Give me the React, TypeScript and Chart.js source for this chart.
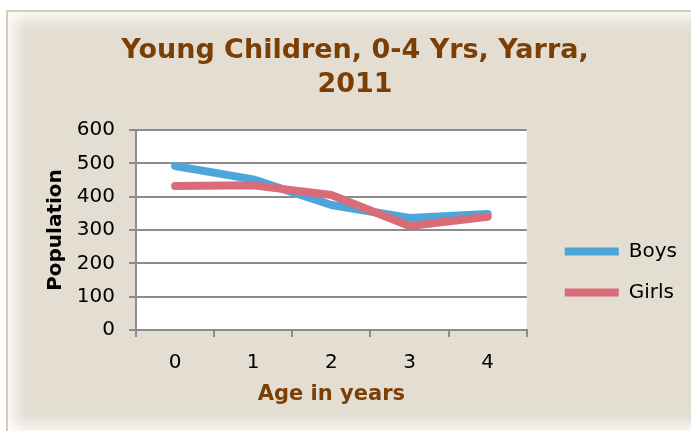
import React, { useEffect, useRef } from "react";
import { Chart, registerables } from "chart.js";

Chart.register(...registerables);

const categories = ["0", "1", "2", "3", "4"];
const boys = [492, 452, 375, 336, 348];
const girls = [432, 434, 405, 312, 340];
const yTicks = [0, 100, 200, 300, 400, 500, 600];

const plotBg = {
  id: "plotBg",
  beforeDraw(chart: any) {
    const { ctx, chartArea } = chart;
    ctx.save();
    ctx.fillStyle = "#ffffff";
    ctx.fillRect(chartArea.left, chartArea.top, chartArea.right - chartArea.left, chartArea.bottom - chartArea.top);
    ctx.restore();
  },
};

export default function App() {
  const ref = useRef<HTMLCanvasElement>(null);
  useEffect(() => {
    document.body.style.margin = "0";
    const chart = new Chart(ref.current!, {
      type: "line",
      data: {
        labels: categories,
        datasets: [
          {
            label: "Boys",
            data: boys,
            borderColor: "#4ea5da",
            backgroundColor: "#4ea5da",
            borderWidth: 8,
            borderCapStyle: "round",
            borderJoinStyle: "round",
            pointRadius: 0,
            tension: 0,
            order: 1,
          },
          {
            label: "Girls",
            data: girls,
            borderColor: "#d96c78",
            backgroundColor: "#d96c78",
            borderWidth: 8,
            borderCapStyle: "round",
            borderJoinStyle: "round",
            pointRadius: 0,
            tension: 0,
            order: 0,
          },
        ],
      },
      options: {
        animation: false,
        responsive: false,
        layout: { padding: { left: 23, right: 4, top: 0, bottom: 18 } },
        plugins: {
          title: {
            display: true,
            text: ["Young Children, 0-4 Yrs, Yarra,", "2011"],
            color: "#7b3f06",
            font: { family: "DejaVu Sans", size: 27, weight: "bold", lineHeight: 1.26 },
            padding: { top: 34, bottom: 28 },
          },
          legend: {
            position: "right",
            align: "start",
            maxWidth: 200,
            title: {
              display: true,
              text: " ",
              font: { size: 12 },
              padding: { top: 206, bottom: 0 },
            },
            labels: {
              usePointStyle: true,
              pointStyle: "line",
              pointStyleWidth: 54,
              padding: 21,
              color: "#000000",
              font: { family: "DejaVu Sans", size: 20 },
              sort: (a: any, b: any) => a.datasetIndex - b.datasetIndex,
            },
          },
          tooltip: { enabled: false },
        },
        scales: {
          x: {
            offset: true,
            grid: { display: true, drawOnChartArea: false, drawTicks: true, tickLength: 7, offset: true, color: "#8c8c8c", lineWidth: 2 },
            border: { display: true, color: "#8c8c8c", width: 2 },
            ticks: { color: "#000000", font: { family: "DejaVu Sans", size: 20 }, padding: 14 },
            title: {
              display: true,
              text: "Age in years",
              color: "#7b3f06",
              font: { family: "DejaVu Sans", size: 21, weight: "bold" },
              padding: { top: 8, bottom: 6 },
            },
            afterFit: (s: any) => { s.height = 83; },
          },
          y: {
            min: 0,
            max: 600,
            afterBuildTicks: (s: any) => { s.ticks = yTicks.map((v) => ({ value: v })); },
            grid: { color: "#8c8c8c", lineWidth: 2, tickLength: 7 },
            border: { display: true, color: "#8c8c8c", width: 2 },
            ticks: { color: "#000000", font: { family: "DejaVu Sans", size: 20 }, padding: 14 },
            title: {
              display: true,
              text: "Population",
              color: "#000000",
              font: { family: "DejaVu Sans", size: 20, weight: "bold" },
              padding: { top: 21, bottom: 0 },
            },
            afterFit: (s: any) => { s.width = 113; },
          },
          y2: {
            position: "right",
            display: true,
            grid: { display: false },
            border: { display: false },
            ticks: { display: false },
            afterFit: (s: any) => { s.width = 17; },
          },
        },
      },
      plugins: [plotBg],
    });
    return () => chart.destroy();
  }, []);

  return (
    <div style={{ position: "relative", width: 691, height: 431, background: "#ffffff", overflow: "hidden" }}>
      <div
        style={{
          position: "absolute",
          left: 6,
          top: 10,
          width: 720,
          height: 420,
          background: "#e3ddd2",
          borderTop: "2px solid #d6ccb8",
          borderLeft: "2px solid #d6ccb8",
          boxShadow: "inset 0 0 16px 6px #ffffff",
        }}
      />
      <canvas ref={ref} width={691} height={431} style={{ position: "absolute", left: 0, top: 0 }} />
    </div>
  );
}
